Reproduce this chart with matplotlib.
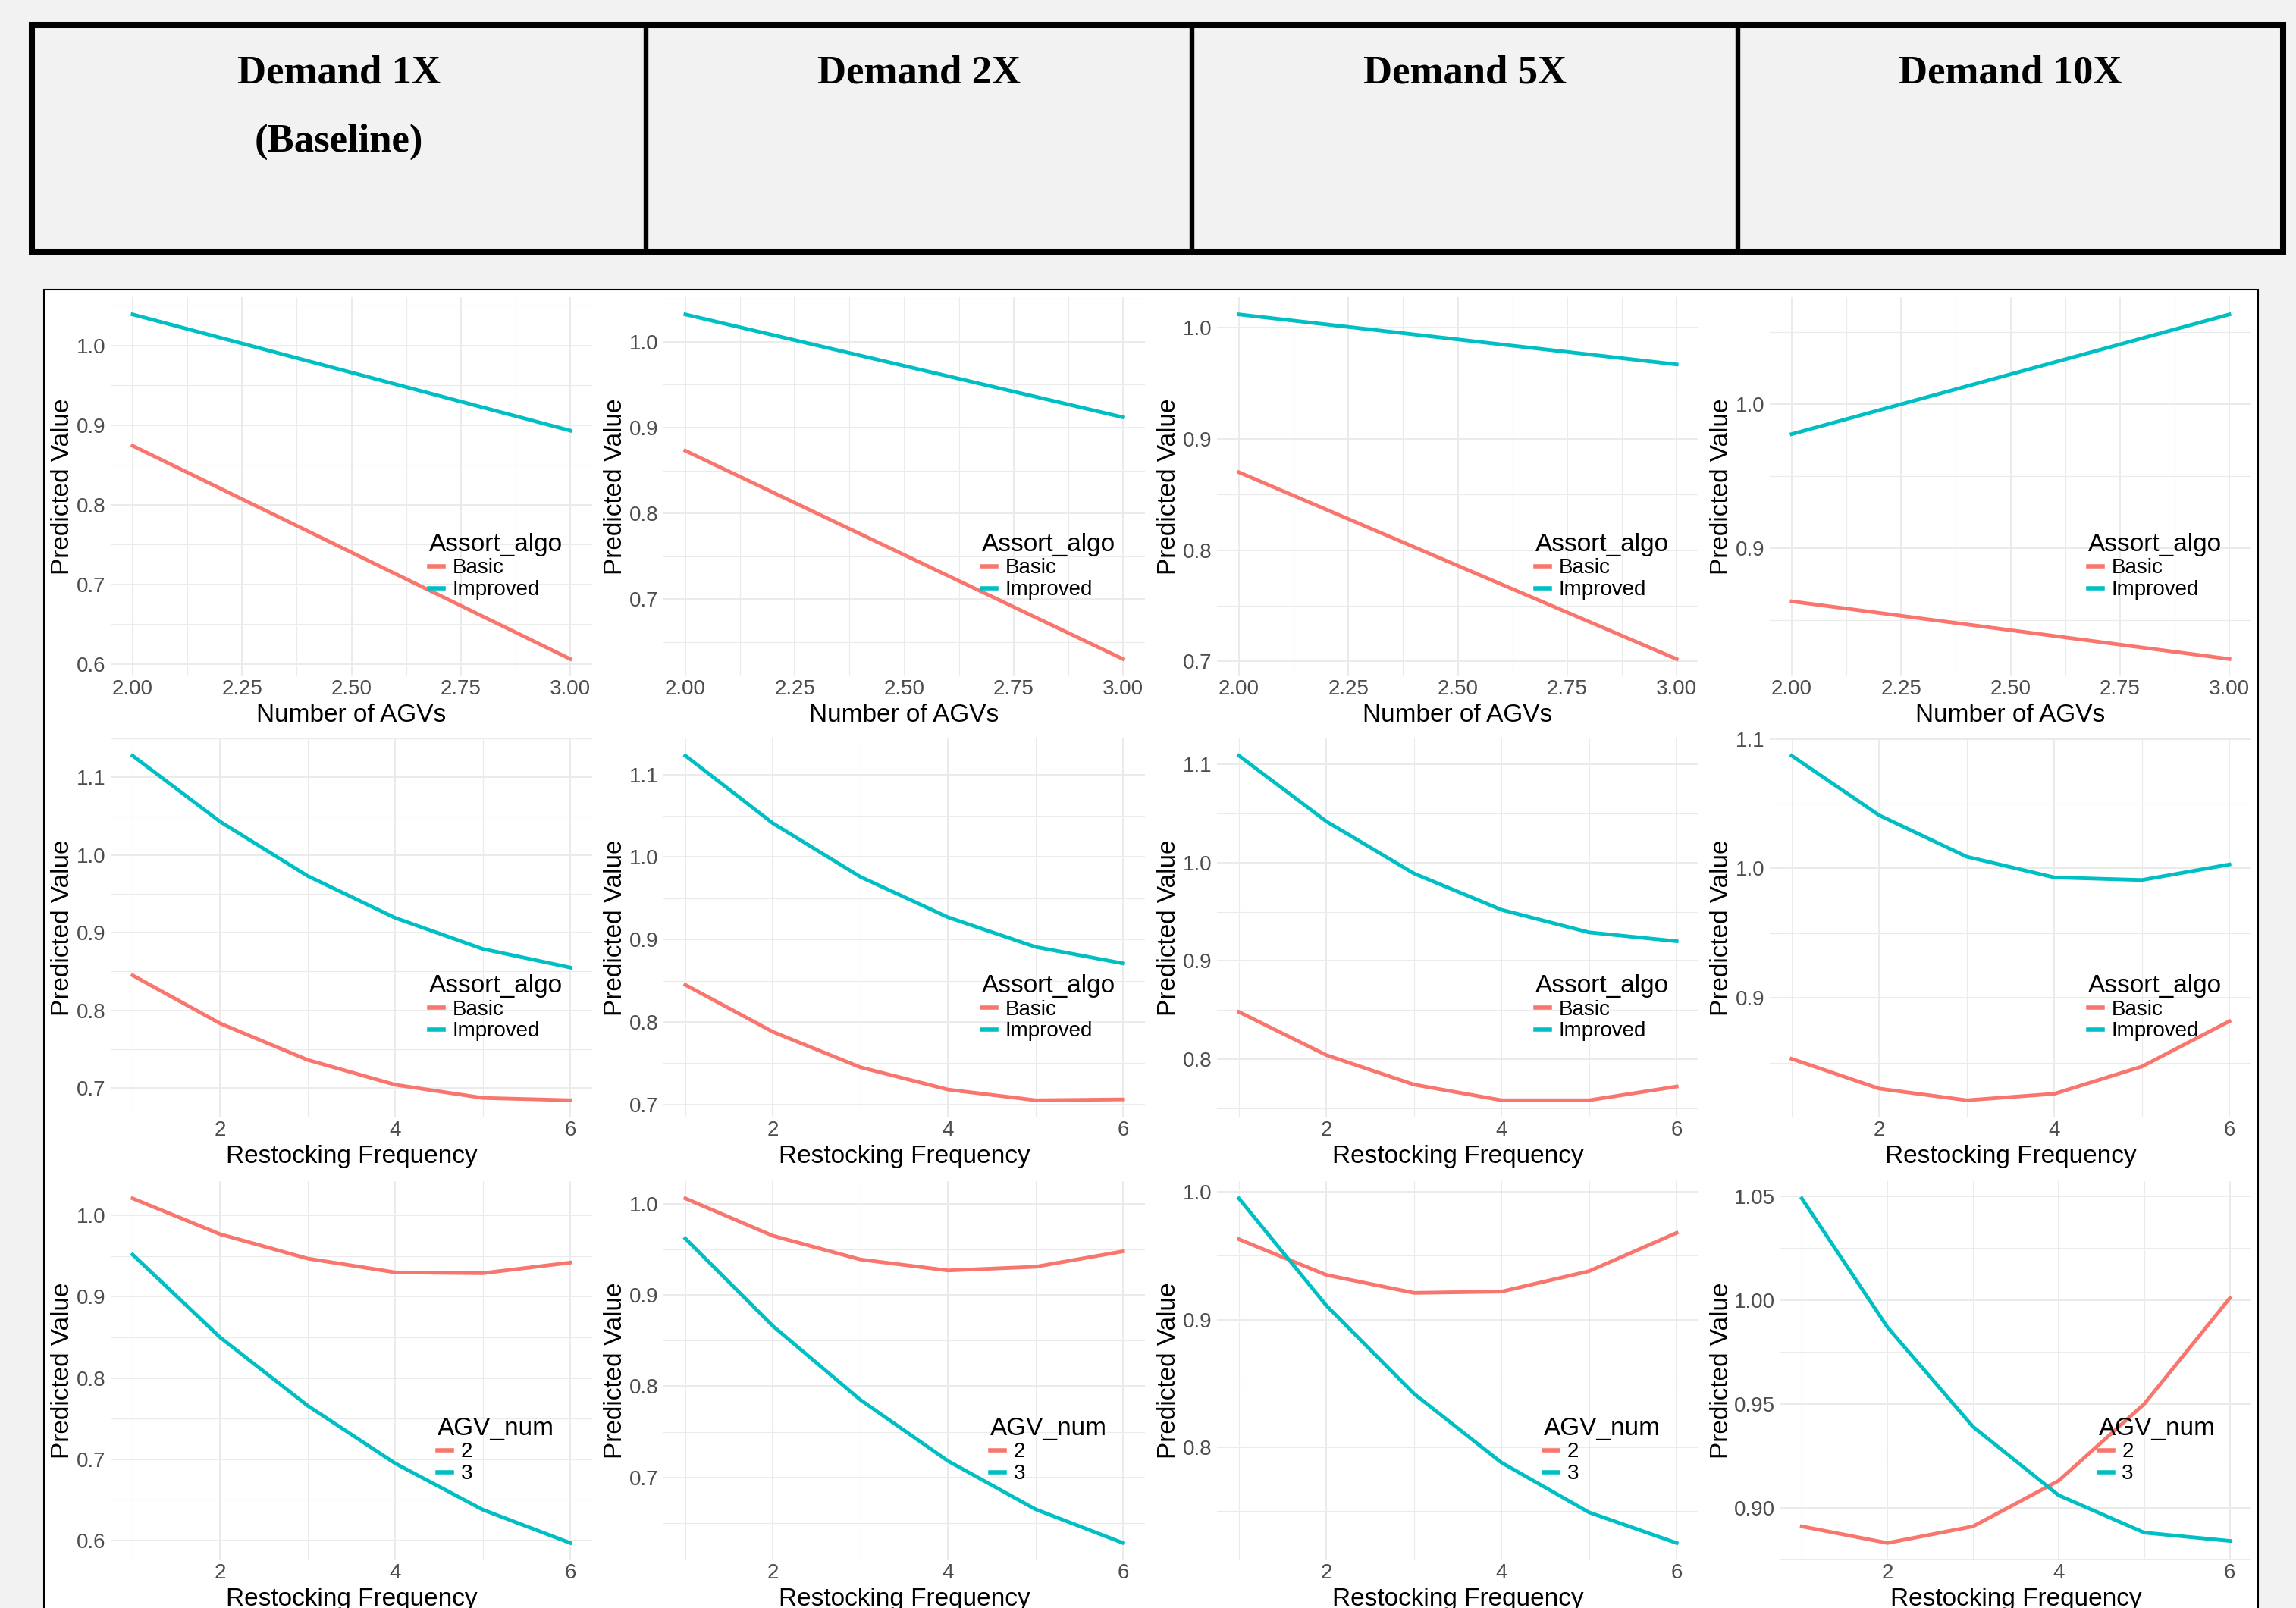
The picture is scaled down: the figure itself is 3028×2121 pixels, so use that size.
import matplotlib
matplotlib.use('Agg')
import matplotlib.pyplot as plt
from matplotlib.patches import Rectangle
from matplotlib.ticker import MultipleLocator, AutoMinorLocator, FormatStrFormatter

plt.rcParams['font.family'] = ['Liberation Sans', 'DejaVu Sans']

# header titles
demands = ['Demand 1X', 'Demand 2X', 'Demand 5X', 'Demand 10X']

# x values
agv_x = [2, 3]
freq_x = [1, 2, 3, 4, 5, 6]

# row 1: predicted value vs number of AGVs, by Assort_algo
agv_basic = [[0.874, 0.606], [0.873, 0.630], [0.870, 0.702], [0.863, 0.823]]
agv_improved = [[1.039, 0.893], [1.032, 0.912], [1.012, 0.967], [0.979, 1.062]]

# row 2: predicted value vs restocking frequency, by Assort_algo
freq_basic = [[0.845, 0.783, 0.736, 0.704, 0.687, 0.684],
              [0.845, 0.788, 0.745, 0.718, 0.705, 0.706],
              [0.848, 0.804, 0.774, 0.758, 0.758, 0.772],
              [0.853, 0.830, 0.821, 0.826, 0.847, 0.882]]
freq_improved = [[1.128, 1.043, 0.973, 0.919, 0.879, 0.855],
                 [1.123, 1.041, 0.976, 0.927, 0.891, 0.871],
                 [1.109, 1.042, 0.989, 0.952, 0.929, 0.920],
                 [1.087, 1.041, 1.009, 0.993, 0.991, 1.003]]

# row 3: predicted value vs restocking frequency, by AGV_num
freq_agv2 = [[1.021, 0.977, 0.947, 0.930, 0.929, 0.942],
             [1.006, 0.965, 0.939, 0.927, 0.931, 0.948],
             [0.963, 0.935, 0.921, 0.922, 0.938, 0.968],
             [0.891, 0.883, 0.891, 0.913, 0.950, 1.001]]
freq_agv3 = [[0.952, 0.850, 0.766, 0.695, 0.638, 0.597],
             [0.962, 0.866, 0.785, 0.718, 0.665, 0.628],
             [0.995, 0.911, 0.842, 0.788, 0.749, 0.725],
             [1.049, 0.987, 0.939, 0.906, 0.888, 0.884]]

# y tick step per panel
y_steps = [[0.1, 0.1, 0.1, 0.1],
           [0.1, 0.1, 0.1, 0.1],
           [0.1, 0.1, 0.1, 0.05]]

red = '#F8766D'
cyan = '#00BFC4'

W, H = 3028, 2121
fig = plt.figure(figsize=(W / 100, H / 100), dpi=100, facecolor='#f2f2f2')

# background layer in pixel coordinates
bg = fig.add_axes([0, 0, 1, 1])
bg.set_xlim(0, W)
bg.set_ylim(H, 0)
bg.axis('off')
bg.add_patch(Rectangle((58, 382), 2920, 1900, facecolor='white',
                       edgecolor='black', lw=1.5))
bg.add_patch(Rectangle((42, 33), 3011 - 42, 331.5 - 33, fill=False,
                       edgecolor='black', lw=5.8))
for xd in [851.5, 1572, 2292]:
    bg.plot([xd, xd], [33, 331.5], color='black', lw=4.6, solid_capstyle='butt')
cell_edges = [42, 851.5, 1572, 2292, 3011]
for i, name in enumerate(demands):
    xc = (cell_edges[i] + cell_edges[i + 1]) / 2
    bg.text(xc, 110, name, ha='center', va='baseline', fontsize=38,
            fontweight='bold', family=['Liberation Serif', 'DejaVu Serif'])
bg.text((cell_edges[0] + cell_edges[1]) / 2, 200, '(Baseline)', ha='center',
        va='baseline', fontsize=38, fontweight='bold',
        family=['Liberation Serif', 'DejaVu Serif'])

col_left = [146, 875, 1605, 2334]
col_w = 635
row_top = [392, 974, 1558]
row_h = 500

for r in range(3):
    for c in range(4):
        left = col_left[c]
        width = col_w
        if y_steps[r][c] < 0.1:
            left += 14
            width -= 14
        top = row_top[r]
        ax = fig.add_axes([left / W, 1 - (top + row_h) / H, width / W, row_h / H])
        ax.set_facecolor('white')
        for s in ax.spines.values():
            s.set_visible(False)

        if r == 0:
            x = agv_x
            ya, yb = agv_basic[c], agv_improved[c]
            labels, title = ['Basic', 'Improved'], 'Assort_algo'
            xlabel = 'Number of AGVs'
        elif r == 1:
            x = freq_x
            ya, yb = freq_basic[c], freq_improved[c]
            labels, title = ['Basic', 'Improved'], 'Assort_algo'
            xlabel = 'Restocking Frequency'
        else:
            x = freq_x
            ya, yb = freq_agv2[c], freq_agv3[c]
            labels, title = ['2', '3'], 'AGV_num'
            xlabel = 'Restocking Frequency'

        ax.plot(x, ya, color=red, lw=3.5, label=labels[0], zorder=3)
        ax.plot(x, yb, color=cyan, lw=3.5, label=labels[1], zorder=3)

        lo = min(min(ya), min(yb))
        hi = max(max(ya), max(yb))
        pad = 0.05 * (hi - lo)
        ax.set_ylim(lo - pad, hi + pad)
        xpad = 0.05 * (x[-1] - x[0])
        ax.set_xlim(x[0] - xpad, x[-1] + xpad)

        if r == 0:
            ax.xaxis.set_major_locator(MultipleLocator(0.25))
            ax.xaxis.set_major_formatter(FormatStrFormatter('%.2f'))
        else:
            ax.xaxis.set_major_locator(MultipleLocator(2))
            ax.xaxis.set_major_formatter(FormatStrFormatter('%g'))
        ax.xaxis.set_minor_locator(AutoMinorLocator(2))
        step = y_steps[r][c]
        ax.yaxis.set_major_locator(MultipleLocator(step))
        ax.yaxis.set_major_formatter(FormatStrFormatter('%.2f' if step < 0.1 else '%.1f'))
        ax.yaxis.set_minor_locator(AutoMinorLocator(2))

        ax.grid(which='major', color='#EBEBEB', lw=1.4)
        ax.grid(which='minor', color='#EBEBEB', lw=0.8)
        ax.set_axisbelow(True)
        ax.tick_params(axis='both', which='both', length=0, labelsize=20,
                       labelcolor='#4D4D4D')
        ax.tick_params(axis='x', pad=3)
        ax.tick_params(axis='y', pad=5)

        ax.set_xlabel(xlabel, fontsize=24, labelpad=4)
        ax.set_ylabel('Predicted Value', fontsize=24)
        ax.yaxis.set_label_coords((col_left[c] - 48 - left) / width, 0.5)

        leg = ax.legend(title=title, loc='center', bbox_to_anchor=(0.80, 0.29),
                        frameon=False, fontsize=20, title_fontsize=24,
                        handlelength=0.7, handletextpad=0.4, labelspacing=0.1,
                        borderpad=0, alignment='left')
        for h in leg.get_lines():
            h.set_linewidth(4)

fig.savefig('out.png', dpi=100, facecolor=fig.get_facecolor())
